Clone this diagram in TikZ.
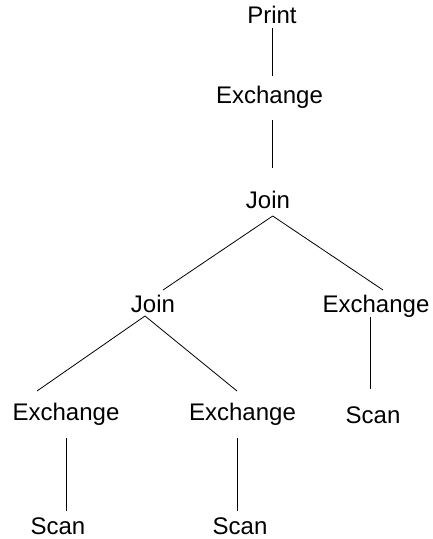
\documentclass[tikz,border=0pt]{standalone}
\usepackage{fontspec}
\setmainfont{Liberation Sans}
\begin{document}
\begin{tikzpicture}[x=1pt,y=-1pt,
  op/.style={anchor=base,inner sep=0pt,font=\fontsize{24}{28}\selectfont},
  edge/.style={line width=0.8pt,black}]
\useasboundingbox (0,0) rectangle (432,539);
\node[op] (print) at (272,23) {Print};
\node[op] (ex1) at (269.5,103) {Exchange};
\node[op] (join1) at (268,208) {Join};
\node[op] (join2) at (153,312) {Join};
\node[op] (ex2) at (376,312) {Exchange};
\node[op] (scanR) at (373,423) {Scan};
\node[op] (exL) at (66,420) {Exchange};
\node[op] (exM) at (242.5,420) {Exchange};
\node[op] (scanL) at (58,534) {Scan};
\node[op] (scanM) at (240,534) {Scan};
\draw[edge] ([shift={(0.7,5)}]print.base) -- ([shift={(3.2,-27)}]ex1.base);
\draw[edge] ([shift={(3.2,17)}]ex1.base) -- ([shift={(4.7,-40)}]join1.base);
\draw[edge] ([shift={(4.7,8)}]join1.base) -- ([shift={(10,-22)}]join2.base);
\draw[edge] ([shift={(4.7,8)}]join1.base) -- ([shift={(7,-22)}]ex2.base);
\draw[edge] ([shift={(-8,4)}]join2.base) -- ([shift={(-29,-29)}]exL.base);
\draw[edge] ([shift={(-8,4)}]join2.base) -- ([shift={(-5.5,-29)}]exM.base);
\draw[edge] ([shift={(-6,5)}]ex2.base) -- ([shift={(-3,-34)}]scanR.base);
\draw[edge] ([shift={(0,18)}]exL.base) -- ([shift={(8,-23)}]scanL.base);
\draw[edge] ([shift={(-5.5,18)}]exM.base) -- ([shift={(-3,-23)}]scanM.base);
\end{tikzpicture}
\end{document}
